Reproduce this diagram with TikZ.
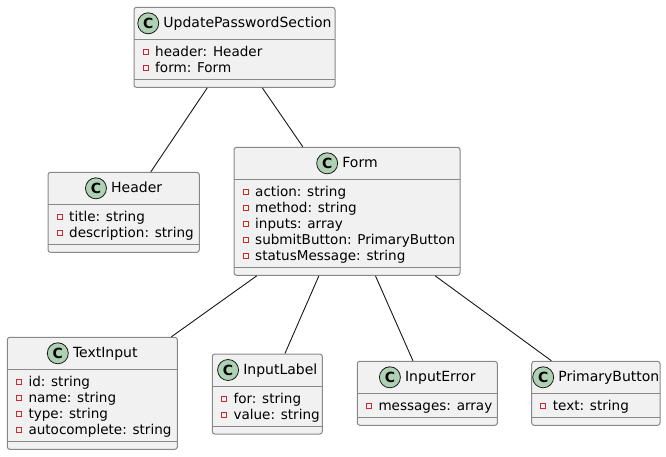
\documentclass[tikz,border=0pt]{standalone}
\usepackage{fontspec}
\setmainfont{DejaVu Sans}
\usetikzlibrary{calc}
\definecolor{boxfill}{HTML}{F1F1F1}
\definecolor{boxline}{HTML}{888888}
\definecolor{edgeline}{HTML}{181818}
\definecolor{cgreen}{HTML}{ADD1B2}
\definecolor{privred}{HTML}{C82930}
\tikzset{
  classbox/.style={draw=boxline, line width=1pt, fill=boxfill, rounded corners=2.5pt, inner sep=0pt},
  sepline/.style={draw=boxline, line width=1pt},
  titletext/.style={inner sep=0pt, font=\fontsize{14}{16}\selectfont},
  attrtext/.style={inner sep=0pt, font=\fontsize{13.55}{16}\selectfont},
  cicon/.style={circle, draw=edgeline, line width=0.8pt, fill=cgreen, minimum size=21pt, inner sep=0pt, font=\fontsize{14}{16}\selectfont\bfseries},
  privicon/.style={draw=privred, line width=1pt},
  assoc/.style={draw=edgeline, line width=0.9pt},
}
% id, left, top, right, title, number of attributes, attributes
\newcommand\umlclass[7]{%
  \pgfmathsetmacro\clsh{32+16*#6+8+8}%
  \pgfmathsetmacro\clsw{#4-#2}%
  \node[classbox, minimum width=\clsw pt, minimum height=\clsh pt] (#1) at ({(#2+#4)/2},{#3+\clsh/2}) {};
  \draw[sepline] (#2,{#3+32}) -- (#4,{#3+32});
  \draw[sepline] (#2,{#3+32+16*#6+8}) -- (#4,{#3+32+16*#6+8});
  \node[titletext, anchor=base] (#1t) at ({(#2+#4)/2+13},{#3+20}) {#5};
  \node[cicon] (#1c) at ($(#1t.base west)+(-15,-4)$) {C};
  \foreach \a [count=\i] in {#7} {
    \pgfmathsetmacro\yb{#3+32+17+16*(\i-1)}
    \node[attrtext, anchor=base west] (#1a\i) at ({#2+21},\yb) {\a};
    \draw[privicon] ({#2+9},{\yb-7}) rectangle ++(5,5);
  }
}
\begin{document}
\begin{tikzpicture}[x=1pt,y=-1pt]
\useasboundingbox (0,0) rectangle (666,456);
\fill[white] (0,0) rectangle (666,456);

\umlclass{ups}{134}{7.3}{335}{UpdatePasswordSection}{2}{header: Header, form: Form}
\umlclass{header}{48}{172.3}{199.3}{Header}{2}{title: string, description: string}
\umlclass{form}{234}{147.3}{460}{Form}{5}{action: string, method: string, inputs: array, submitButton: PrimaryButton, statusMessage: string}
\umlclass{textinput}{7.3}{337.3}{177.3}{TextInput}{4}{id: string, name: string, type: string, autocomplete: string}
\umlclass{inputlabel}{212.3}{354}{322.3}{InputLabel}{2}{for: string, value: string}
\umlclass{inputerror}{357.3}{361.3}{497.3}{InputError}{1}{messages: array}
\umlclass{primarybutton}{531.7}{361.3}{660}{PrimaryButton}{1}{text: string}

\draw[assoc] (ups) -- (header);
\draw[assoc] (ups) -- (form);
\draw[assoc] (form) -- (textinput);
\draw[assoc] (form) -- (inputlabel);
\draw[assoc] (form) -- (inputerror);
\draw[assoc] (form) -- (primarybutton);
\end{tikzpicture}
\end{document}
